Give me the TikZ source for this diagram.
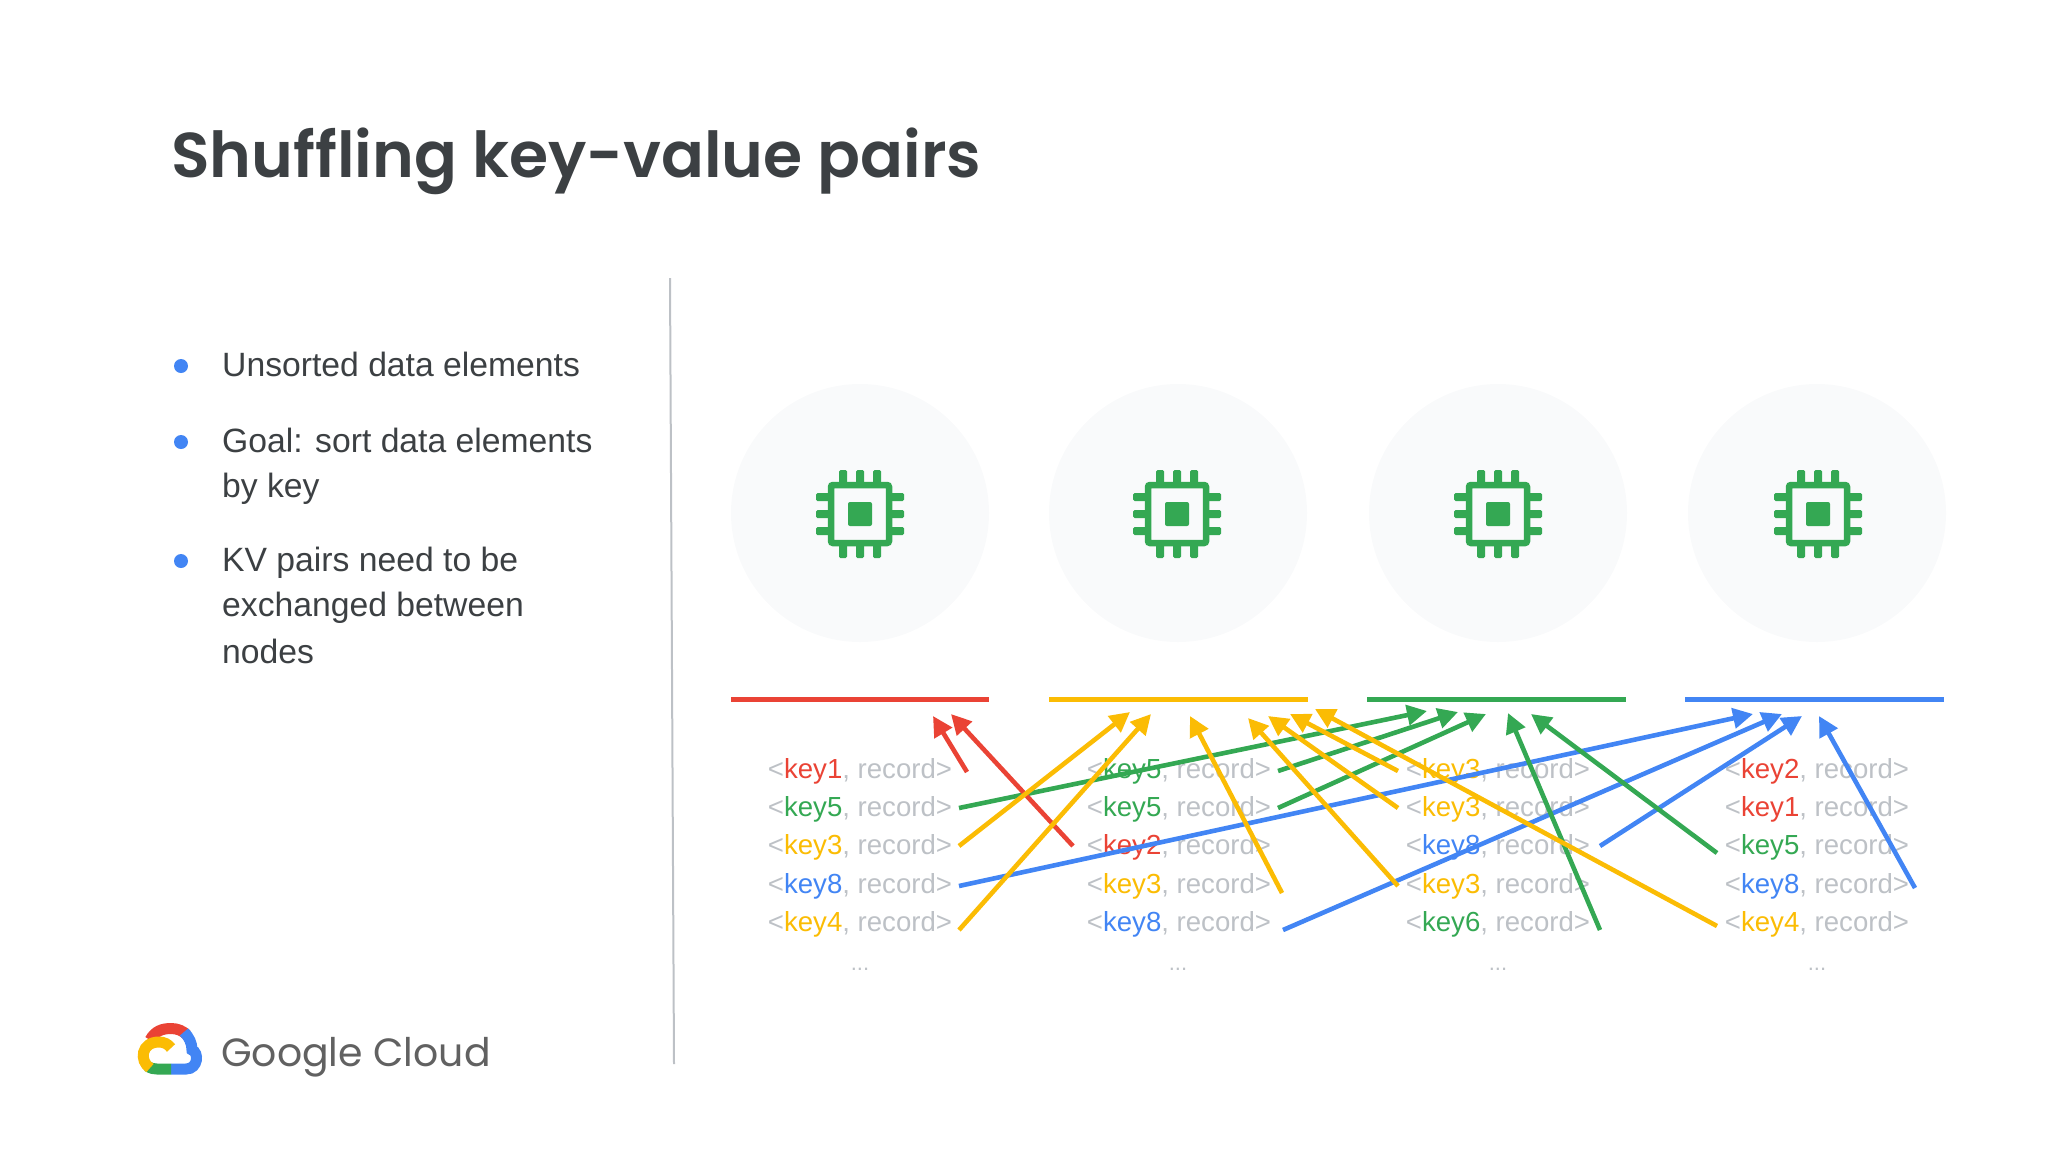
\documentclass[tikz,border=0pt]{standalone}
\usepackage{fontspec}
\setmainfont{Liberation Sans}
\newfontfamily\titlefont[BoldFont={Poppins SemiBold}]{Poppins}
\usetikzlibrary{arrows.meta}
\definecolor{kred}{HTML}{EA4335}
\definecolor{kyellow}{HTML}{FBBC04}
\definecolor{kgreen}{HTML}{34A853}
\definecolor{kblue}{HTML}{4285F4}
\definecolor{kgrey}{HTML}{BDC1C6}
\definecolor{kdark}{HTML}{3C4043}
\definecolor{kdisc}{HTML}{F9FAFB}
\newcommand{\kv}[2]{\textcolor{kgrey}{<}\textcolor{#1}{#2}\textcolor{kgrey}{, record>}}
\tikzset{
  disc/.style={circle,fill=kdisc,minimum size=258pt,inner sep=0pt},
  bar/.style={line width=5pt},
  kvrow/.style={anchor=base,inner sep=0pt,font=\fontsize{27.6}{30}\selectfont},
  kvdots/.style={anchor=base,inner sep=0pt,text=kgrey,font=\fontsize{22}{24}\selectfont},
  point/.style={anchor=base west,inner sep=0pt,text=kdark,font=\fontsize{33.7}{36}\selectfont},
  dot/.style={circle,fill=kblue,minimum size=14pt,inner sep=0pt},
  move/.style={line width=4.6pt,-{Triangle[length=20pt,width=20pt]}},
  chip/.pic={
    \draw[kgreen,line width=6.5pt,rounded corners=2pt] (-29,-29) rectangle (29,29);
    \fill[kgreen,rounded corners=2pt] (-12,-12) rectangle (12,12);
    \foreach \t in {-17,0,17}{
      \fill[kgreen,rounded corners=1.5pt] (\t-4,-44) rectangle (\t+4,-30);
      \fill[kgreen,rounded corners=1.5pt] (\t-4,30) rectangle (\t+4,44);
      \fill[kgreen,rounded corners=1.5pt] (-44,\t-4) rectangle (-30,\t+4);
      \fill[kgreen,rounded corners=1.5pt] (30,\t-4) rectangle (44,\t+4);
    }
  }
}
\begin{document}
\begin{tikzpicture}[x=1pt,y=-1pt]
\useasboundingbox (0,0) rectangle (2048,1152);
\node[anchor=base west,inner sep=0pt,text=kdark,font=\titlefont\bfseries\fontsize{63.3}{66}\selectfont] (title) at (171,177) {Shuffling key-value pairs};

\node[dot] (dot1) at (181,366) {};
\node[dot] (dot2) at (181,442) {};
\node[dot] (dot3) at (181,561) {};
\node[point] (line1) at (222,376) {Unsorted data elements};
\node[point] (line2) at (222,452) {Goal: sort data elements};
\node[point] (line3) at (222,497) {by key};
\node[point] (line4) at (222,571) {KV pairs need to be};
\node[point] (line5) at (222,616) {exchanged between};
\node[point] (line6) at (222,663) {nodes};

\coordinate (ruletop) at (670,278);
\coordinate (rulebot) at (674,1064);
\draw[kgrey,line width=2pt] (ruletop) -- (rulebot);

% cloud logo
\begin{scope}[xshift=1pt]
\draw[kred,line width=11pt] (149,1040) .. controls (154,1031) and (161,1028.5) .. (170,1028.5) .. controls (177,1028.5) and (182,1031) .. (186,1035);
\draw[kblue,line width=11pt] (183,1032) .. controls (188,1037) and (191,1043) .. (191,1050) .. controls (198,1052) and (197.5,1069) .. (185,1069) -- (170,1069);
\draw[kgreen,line width=11pt] (170,1069) -- (156,1069) .. controls (153,1069) and (150,1068.5) .. (146,1066);
\draw[kyellow,line width=11pt] (149,1068) .. controls (138,1061) and (140,1042) .. (158,1042) .. controls (163,1042) and (167,1044) .. (170,1048);
\end{scope}
\node[anchor=base west,inner sep=0pt,text=black!62,font=\titlefont\fontsize{39.4}{42}\selectfont] (logo) at (221,1066) {Google Cloud};

\node[disc] (cpu1) at (860,513) {};
\node[disc] (cpu2) at (1178,513) {};
\node[disc] (cpu3) at (1498,513) {};
\node[disc] (cpu4) at (1817,513) {};
\pic at (860,514) {chip};
\pic at (1177,514) {chip};
\pic at (1498,514) {chip};
\pic at (1818,514) {chip};

\coordinate (bar1a) at (731,699);
\coordinate (bar1b) at (989,699);
\coordinate (bar2a) at (1049,699);
\coordinate (bar2b) at (1308,699);
\coordinate (bar3a) at (1367,699);
\coordinate (bar3b) at (1626,699);
\coordinate (bar4a) at (1685,699);
\coordinate (bar4b) at (1944,699);
\draw[bar,kred] (bar1a) -- (bar1b);
\draw[bar,kyellow] (bar2a) -- (bar2b);
\draw[bar,kgreen] (bar3a) -- (bar3b);
\draw[bar,kblue] (bar4a) -- (bar4b);

\foreach \n/\keycol/\keytxt/\ypos in {1/kred/key1/778,2/kgreen/key5/816,3/kyellow/key3/854,4/kblue/key8/893,5/kyellow/key4/931}
  \node[kvrow] (a\n) at (860,\ypos) {\kv{\keycol}{\keytxt}};
\foreach \n/\keycol/\keytxt/\ypos in {1/kgreen/key5/778,2/kgreen/key5/816,3/kred/key2/854,4/kyellow/key3/893,5/kblue/key8/931}
  \node[kvrow] (b\n) at (1179,\ypos) {\kv{\keycol}{\keytxt}};
\foreach \n/\keycol/\keytxt/\ypos in {1/kyellow/key3/778,2/kyellow/key3/816,3/kblue/key8/854,4/kyellow/key3/893,5/kgreen/key6/931}
  \node[kvrow] (c\n) at (1498,\ypos) {\kv{\keycol}{\keytxt}};
\foreach \n/\keycol/\keytxt/\ypos in {1/kred/key2/778,2/kred/key1/816,3/kgreen/key5/854,4/kblue/key8/893,5/kyellow/key4/931}
  \node[kvrow] (d\n) at (1817,\ypos) {\kv{\keycol}{\keytxt}};
\node[kvdots] (adots) at (860,970) {...};
\node[kvdots] (bdots) at (1178,970) {...};
\node[kvdots] (cdots) at (1498,970) {...};
\node[kvdots] (ddots) at (1817,970) {...};

% arrow ends
\coordinate (ga1) at (959,808);  \coordinate (gt1) at (1427,711);
\coordinate (gb1) at (1278,771); \coordinate (gt2) at (1458,712);
\coordinate (gb2) at (1278,808); \coordinate (gt3) at (1486,714);
\coordinate (gc5) at (1600,930); \coordinate (gt4) at (1508,713);
\coordinate (gd3) at (1717,853); \coordinate (gt5) at (1531,714);
\coordinate (ba4) at (959,886);  \coordinate (bt1) at (1753,714);
\coordinate (bb5) at (1283,930); \coordinate (bt2) at (1782,714);
\coordinate (bc3) at (1600,846); \coordinate (bt3) at (1802,716);
\coordinate (bd4) at (1915,888); \coordinate (bt4) at (1819,716);
\coordinate (ra1) at (967,772);  \coordinate (rt1) at (933,716);
\coordinate (rb3) at (1073,846); \coordinate (rt2) at (951,714);
\coordinate (ya3) at (959,846);  \coordinate (yt1) at (1130,712);
\coordinate (ya5) at (959,930);  \coordinate (yt2) at (1151,714);
\coordinate (yb4) at (1282,893); \coordinate (yt3) at (1190,716);
\coordinate (yc4) at (1398,886); \coordinate (yt4) at (1248,718);
\coordinate (yc2) at (1398,808); \coordinate (yt5) at (1268,716);
\coordinate (yc1) at (1398,771); \coordinate (yt6) at (1290,714);
\coordinate (yd5) at (1717,926); \coordinate (yt7) at (1315,709);

\draw[move,kblue] (ba4) -- (bt1);
\draw[move,kblue] (bb5) -- (bt2);
\draw[move,kblue] (bc3) -- (bt3);
\draw[move,kblue] (bd4) -- (bt4);
\draw[move,kgreen] (ga1) -- (gt1);
\draw[move,kgreen] (gb1) -- (gt2);
\draw[move,kgreen] (gb2) -- (gt3);
\draw[move,kgreen] (gc5) -- (gt4);
\draw[move,kgreen] (gd3) -- (gt5);
\draw[move,kred] (ra1) -- (rt1);
\draw[move,kred] (rb3) -- (rt2);
\draw[move,kyellow] (ya3) -- (yt1);
\draw[move,kyellow] (ya5) -- (yt2);
\draw[move,kyellow] (yb4) -- (yt3);
\draw[move,kyellow] (yc4) -- (yt4);
\draw[move,kyellow] (yc2) -- (yt5);
\draw[move,kyellow] (yc1) -- (yt6);
\draw[move,kyellow] (yd5) -- (yt7);
\end{tikzpicture}
\end{document}
